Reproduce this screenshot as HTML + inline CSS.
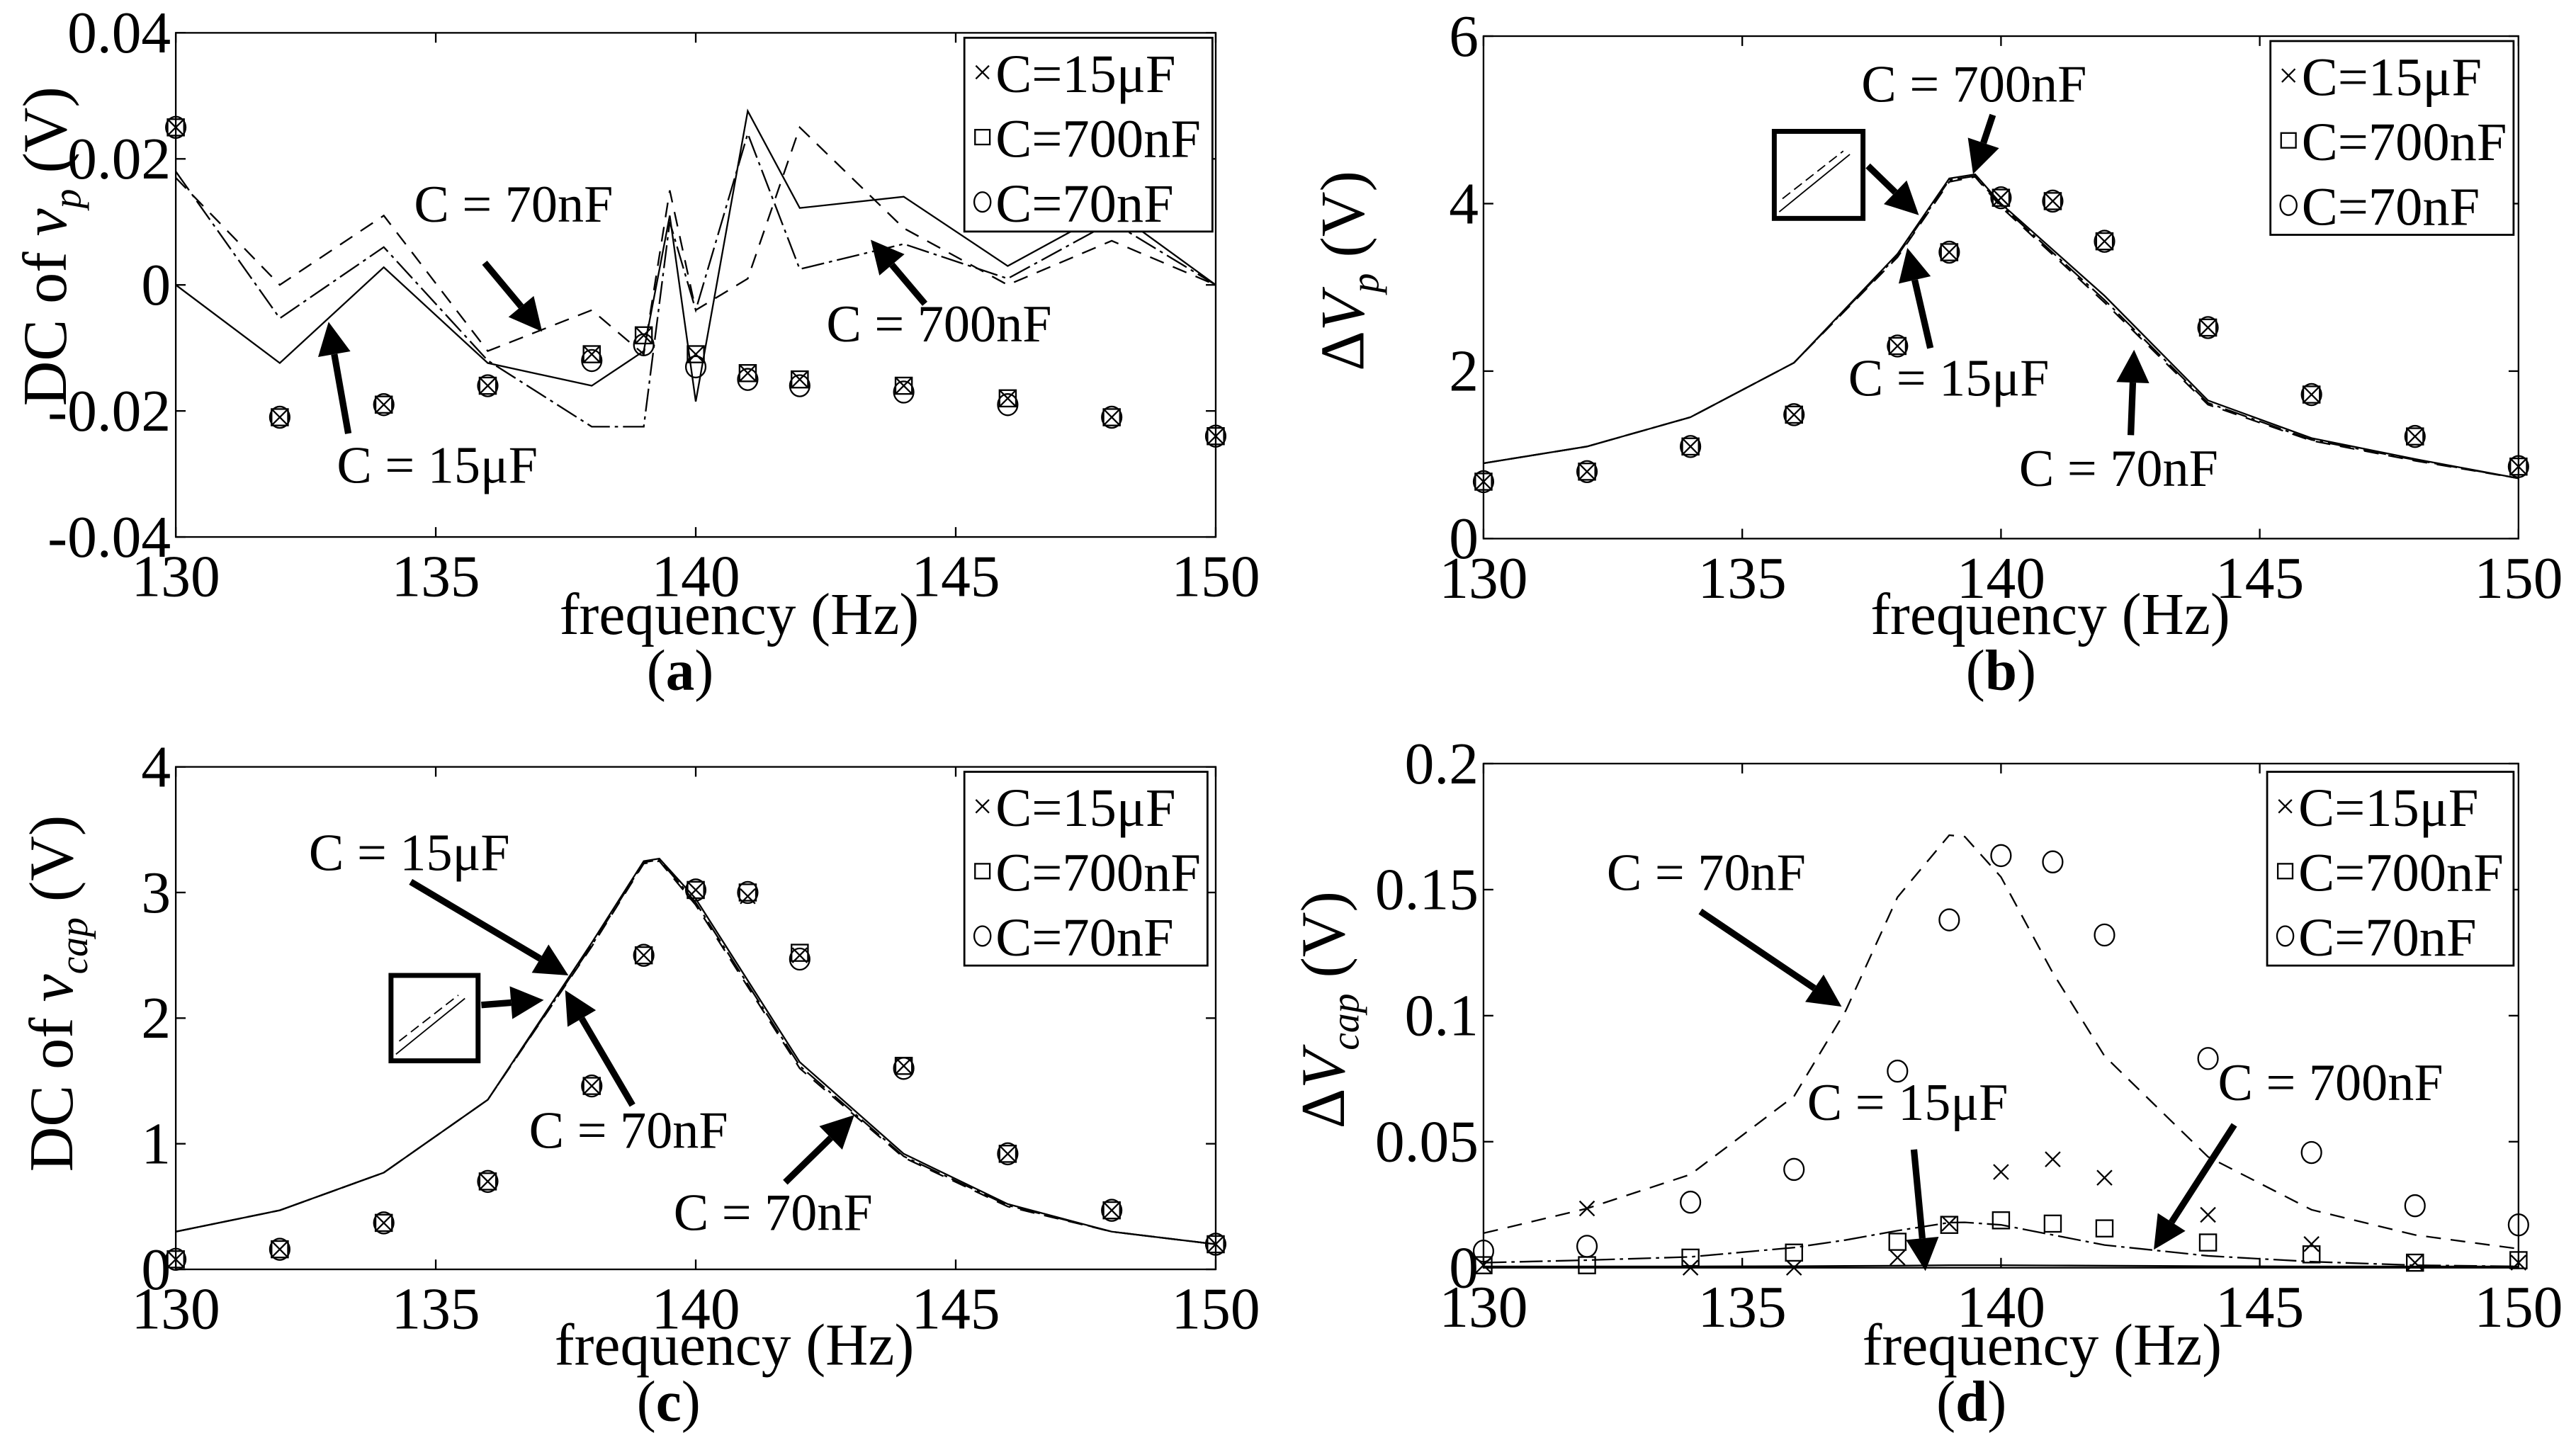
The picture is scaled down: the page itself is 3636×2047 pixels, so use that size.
<!DOCTYPE html>
<html><head><meta charset="utf-8">
<style>
html,body{margin:0;padding:0;background:#fff;}
svg{display:block;}
text{font-family:"Liberation Serif",serif;fill:#000;}
</style></head>
<body>
<svg id="fig" xmlns="http://www.w3.org/2000/svg" width="3636" height="2047" viewBox="0 0 1568 883" preserveAspectRatio="none"></svg>
<script>
// ---- shared categories ----
const freqMarkers = [130,132,134,136,138,139,140,141,142,144,146,148,150];
const xTicks = [130,135,140,145,150];

// ---- panel (a): DC of v_p ----
const aTicksY = [0.04,0.02,0,-0.02,-0.04];
const aTickLabelsY = ["0.04","0.02","0","-0.02","-0.04"];
const aMark15u = [0.025,-0.021,-0.019,-0.016,-0.011,-0.008,-0.011,-0.014,-0.015,-0.016,-0.018,-0.021,-0.024];
const aMark700n = [0.025,-0.021,-0.019,-0.016,-0.011,-0.008,-0.011,-0.014,-0.015,-0.016,-0.018,-0.021,-0.024];
const aMark70n = [0.025,-0.021,-0.019,-0.016,-0.012,-0.0095,-0.013,-0.015,-0.016,-0.017,-0.019,-0.021,-0.024];
const aLineX = [130,132,134,136,138,139,139.5,140,141,142,144,146,148,150];
const aLine15u = [0,-0.0124,0.0028,-0.0124,-0.016,-0.0105,0.011,-0.0185,0.0276,0.0122,0.014,0.003,0.012,0];
const aLine700n = [0.018,-0.0053,0.006,-0.012,-0.0225,-0.0225,0.01,-0.004,0.024,0.0025,0.0065,0.001,0.01,0];
const aLine70n = [0.017,0,0.011,-0.0105,-0.004,-0.011,0.015,-0.004,0.001,0.025,0.009,0,0.007,0];

// ---- panel (b): delta V_p ----
const bTicksY = [6,4,2,0];
const bTickLabelsY = ["6","4","2","0"];
const bMark15u = [0.68,0.8,1.1,1.48,2.3,3.42,4.07,4.03,3.55,2.52,1.72,1.22,0.86];
const bMark700n = [0.68,0.8,1.1,1.48,2.3,3.42,4.07,4.03,3.55,2.52,1.72,1.22,0.86];
const bMark70n = [0.68,0.8,1.1,1.48,2.3,3.42,4.07,4.03,3.55,2.52,1.72,1.22,0.86];
const bLineX = [130,132,134,136,138,139,139.5,140,142,144,146,148,150];
const bLine15u = [0.9,1.1,1.45,2.1,3.4,4.3,4.35,4.0,2.9,1.65,1.2,0.95,0.72];
const bLine700n = [0.9,1.1,1.45,2.1,3.38,4.28,4.33,3.98,2.85,1.62,1.18,0.94,0.72];
const bLine70n = [0.9,1.1,1.45,2.1,3.36,4.26,4.32,3.96,2.82,1.6,1.17,0.93,0.72];

// ---- panel (c): DC of v_cap ----
const cTicksY = [4,3,2,1,0];
const cTickLabelsY = ["4","3","2","1","0"];
const cMark15u = [0.08,0.16,0.37,0.7,1.46,2.5,3.02,2.97,2.5,1.62,0.92,0.47,0.2];
const cMark700n = [0.08,0.16,0.37,0.7,1.46,2.5,3.02,3.0,2.52,1.62,0.92,0.47,0.2];
const cMark70n = [0.08,0.16,0.37,0.7,1.46,2.5,3.02,3.0,2.47,1.6,0.92,0.47,0.2];
const cLineX = [130,132,134,136,138,139,139.3,140,142,144,146,148,150];
const cLine15u = [0.3,0.47,0.77,1.35,2.6,3.25,3.27,2.95,1.65,0.92,0.52,0.3,0.2];
const cLine700n = [0.3,0.47,0.77,1.35,2.58,3.24,3.26,2.92,1.62,0.9,0.51,0.3,0.2];
const cLine70n = [0.3,0.47,0.77,1.35,2.57,3.23,3.25,2.9,1.6,0.89,0.5,0.3,0.2];

// ---- panel (d): delta V_cap ----
const dTicksY = [0.2,0.15,0.1,0.05,0];
const dTickLabelsY = ["0.2","0.15","0.1","0.05","0"];
const dMark15u = [0.001,0.0235,0,0,0.004,0.0175,0.038,0.043,0.0357,0.021,0.0094,0.002,0.002];
const dMark700n = [0.001,0.001,0.004,0.006,0.0103,0.017,0.0188,0.0175,0.0156,0.01,0.0053,0.002,0.003];
const dMark70n = [0.0066,0.0085,0.026,0.039,0.078,0.138,0.1635,0.161,0.132,0.083,0.0457,0.0246,0.017];
const dLineX = [130,132,134,136,137,138,139,139.3,140,141,142,144,146,148,150];
const dLine70n = [0.0137,0.0235,0.037,0.068,0.102,0.147,0.1716,0.171,0.155,0.117,0.084,0.044,0.023,0.013,0.0075];
const dLine700n = [0.002,0.003,0.0043,0.008,0.011,0.0147,0.0179,0.018,0.017,0.013,0.009,0.0047,0.0024,0.001,0.0005];
const dLine15u = [0.0005,0.0005,0.0005,0.0006,0.0007,0.0008,0.001,0.001,0.001,0.0009,0.0008,0.0006,0.0005,0.0005,0.0005];

const NS = "http://www.w3.org/2000/svg";
const svg = document.getElementById('fig');
function mk(tag, attrs, parent){
  const e = document.createElementNS(NS, tag);
  for (const k in attrs) e.setAttribute(k, attrs[k]);
  (parent||svg).appendChild(e);
  return e;
}
function txt(x,y,s,size,parent,anchor){
  const t = mk('text',{x:x,y:y,'font-size':size,'text-anchor':anchor||'start'},parent);
  t.textContent = s;
  return t;
}

function panel(id, box, ymin, ymax, ticksY, tickLabelsY, lines, marks){
  const g = mk('g',{});
  
  
  const L=box.l, R=box.r, T=box.t, B=box.b;
  const sx = v => L + (v-130)/(150-130)*(R-L);
  const sy = v => B - (v-ymin)/(ymax-ymin)*(B-T);
  const frame = mk('rect',{x:L,y:T,width:R-L,height:B-T,fill:'none',stroke:'#000','stroke-width':1},g);
  
  
  xTicks.forEach(v=>{
    const x = sx(v);
    mk('line',{x1:x,y1:B,x2:x,y2:B-6,stroke:'#000'},g);
    mk('line',{x1:x,y1:T,x2:x,y2:T+6,stroke:'#000'},g);
    const t = txt(x, B+36, String(v), 36, g, 'middle');
    
    
  });
  ticksY.forEach((v,i)=>{
    const y = sy(v);
    mk('line',{x1:L,y1:y,x2:L+6,y2:y,stroke:'#000'},g);
    mk('line',{x1:R,y1:y,x2:R-6,y2:y,stroke:'#000'},g);
    const t = txt(L-3, y+12, tickLabelsY[i], 36, g, 'end');
    
    
  });
  lines.forEach(ln=>{
    const pts = ln.x.map((xv,i)=>sx(xv).toFixed(2)+','+sy(ln.y[i]).toFixed(2)).join(' ');
    const p = mk('polyline',{points:pts,fill:'none',stroke:'#000','stroke-width':ln.w||1,'stroke-dasharray':ln.dash||'none'},g);
    
    
  });
  marks.forEach(m=>{
    freqMarkers.forEach((f,i)=>{
      const x=sx(f), y=sy(m.y[i]);
      let e;
      if (m.type==='x'){
        e = mk('path',{d:`M${x-4.5},${y-4.5}L${x+4.5},${y+4.5}M${x-4.5},${y+4.5}L${x+4.5},${y-4.5}`,stroke:'#000','stroke-width':1,fill:'none'},g);
      } else if (m.type==='s'){
        e = mk('rect',{x:x-5,y:y-5,width:10,height:10,fill:'none',stroke:'#000','stroke-width':1},g);
      } else {
        e = mk('ellipse',{cx:x,cy:y,rx:6,ry:6.5,fill:'none',stroke:'#000','stroke-width':1},g);
      }
      
      
    });
  });
  return g;
}

function legend(x,y,w,h){
  const g = mk('g',{});
  
  
  mk('rect',{x:x,y:y,width:w,height:h,fill:'#fff',stroke:'#000','stroke-width':1.2},g);
  const labels=['C=15μF','C=700nF','C=70nF'];
  labels.forEach((s,i)=>{
    const cy = y+21+i*39.5, mx = x+11;
    if(i===0) mk('path',{d:`M${mx-4},${cy-4}L${mx+4},${cy+4}M${mx-4},${cy+4}L${mx+4},${cy-4}`,stroke:'#000'},g);
    if(i===1) mk('rect',{x:mx-4.5,y:cy-4.5,width:9,height:9,fill:'none',stroke:'#000'},g);
    if(i===2) mk('ellipse',{cx:mx,cy:cy,rx:5,ry:6,fill:'none',stroke:'#000'},g);
    const t = txt(x+19, cy+12, s, 33, g);
    
    
  });
}

function arrow(x1,y1,x2,y2){
  const dx=x2-x1, dy=y2-y1, len=Math.hypot(dx,dy), ux=dx/len, uy=dy/len;
  const hl=20, hw=10;
  const bx=x2-ux*hl, by=y2-uy*hl;
  mk('line',{x1:x1,y1:y1,x2:bx,y2:by,stroke:'#000','stroke-width':4});
  const a = mk('polygon',{points:`${x2},${y2} ${bx-uy*hw},${by+ux*hw} ${bx+uy*hw},${by-ux*hw}`,fill:'#000'});
  
  
}
function note(x,y,s){
  const t = txt(x,y,s,32);
  
  
}
function label(x,y,s,size,anchor,name){
  const t = txt(x,y,s,size,null,anchor||'middle');
  
  
  return t;
}
function caption(x,y,letter){
  const t = mk('text',{x:x,y:y,'font-size':35,'text-anchor':'middle'});
  t.innerHTML='(<tspan font-weight="bold">'+letter+'</tspan>)';
  
  
}
function inset(x,y,w,h){
  const g = mk('g',{});
  
  
  mk('rect',{x:x,y:y,width:w,height:h,fill:'#fff',stroke:'#000','stroke-width':3},g);
  mk('line',{x1:x+3,y1:y+h-4,x2:x+w-8,y2:y+14,stroke:'#000','stroke-width':0.8},g);
  mk('line',{x1:x+5,y1:y+h-12,x2:x+w-12,y2:y+12,stroke:'#000','stroke-width':0.8,'stroke-dasharray':'6,3'},g);
}
function ytitle(cx,cy,html){
  const t=mk('text',{x:0,y:0,'font-size':38,'text-anchor':'middle',transform:`translate(${cx},${cy}) rotate(-90)`});
  t.innerHTML=html;
  
  
}

// Panel (a)
panel('a',{l:107,r:740,t:20,b:327},-0.04,0.04,aTicksY,aTickLabelsY,[
  {name:'15uF',x:aLineX,y:aLine15u},
  {name:'700nF',x:aLineX,y:aLine700n,dash:'14,3,2,3'},
  {name:'70nF',x:aLineX,y:aLine70n,dash:'9,6'}
],[{name:'15uF',type:'x',y:aMark15u},{name:'700nF',type:'s',y:aMark700n},{name:'70nF',type:'o',y:aMark70n}]);
legend(587,23,151,118);
note(252,135,'C = 70nF'); arrow(295,160,330,202);
note(503,208,'C = 700nF'); arrow(563,185,530,146);
note(205,294,'C = 15μF'); arrow(212,264,200,196);
label(450,386,'frequency (Hz)',36,'middle','x-axis-title');
caption(414,420,'a');
ytitle(40,150,'DC of <tspan font-style="italic">v</tspan><tspan font-size="24" font-style="italic" dy="9">p</tspan><tspan dy="-9"> (V)</tspan>');

// Panel (b)
panel('b',{l:903,r:1533,t:22,b:328},0,6,bTicksY,bTickLabelsY,[
  {name:'15uF',x:bLineX,y:bLine15u},
  {name:'700nF',x:bLineX,y:bLine700n,dash:'14,3,2,3'},
  {name:'70nF',x:bLineX,y:bLine70n,dash:'9,6'}
],[{name:'15uF',type:'x',y:bMark15u},{name:'700nF',type:'s',y:bMark700n},{name:'70nF',type:'o',y:bMark70n}]);
legend(1382,25,148,118);
inset(1080,80,54,53);
arrow(1137,101,1168,131);
note(1133,62,'C = 700nF'); arrow(1213,70,1201,106);
note(1125,241,'C = 15μF'); arrow(1175,212,1161,151);
note(1229,296,'C = 70nF'); arrow(1297,265,1299,213);
label(1248,386,'frequency (Hz)',36,'middle','x-axis-title');
caption(1218,420,'b');
ytitle(830,165,'Δ<tspan font-style="italic">V</tspan><tspan font-size="24" font-style="italic" dy="9">p</tspan><tspan dy="-9">  (V)</tspan>');

// Panel (c)
panel('c',{l:107,r:740,t:467,b:773},0,4,cTicksY,cTickLabelsY,[
  {name:'15uF',x:cLineX,y:cLine15u},
  {name:'700nF',x:cLineX,y:cLine700n,dash:'14,3,2,3'},
  {name:'70nF',x:cLineX,y:cLine70n,dash:'9,6'}
],[{name:'15uF',type:'x',y:cMark15u},{name:'700nF',type:'s',y:cMark700n},{name:'70nF',type:'o',y:cMark70n}]);
legend(587,470,148,118);
inset(238,594,53,52);
arrow(293,612,331,609);
note(188,530,'C = 15μF'); arrow(250,537,346,594);
note(322,699,'C = 70nF'); arrow(385,673,344,603);
note(410,749,'C = 70nF'); arrow(478,720,520,679);
label(447,831,'frequency (Hz)',36,'middle','x-axis-title');
caption(407,865,'c');
ytitle(44,605,'DC of <tspan font-style="italic">v</tspan><tspan font-size="24" font-style="italic" dy="9">cap</tspan><tspan dy="-9"> (V)</tspan>');

// Panel (d)
panel('d',{l:903,r:1533,t:465,b:772},0,0.2,dTicksY,dTickLabelsY,[
  {name:'15uF',x:dLineX,y:dLine15u},
  {name:'700nF',x:dLineX,y:dLine700n,dash:'14,3,2,3'},
  {name:'70nF',x:dLineX,y:dLine70n,dash:'9,6'}
],[{name:'15uF',type:'x',y:dMark15u},{name:'700nF',type:'s',y:dMark700n},{name:'70nF',type:'o',y:dMark70n}]);
legend(1380,470,150,118);
note(978,542,'C = 70nF'); arrow(1035,555,1121,613);
note(1100,682,'C = 15μF'); arrow(1165,700,1172,774);
note(1350,670,'C = 700nF'); arrow(1360,685,1311,761);
label(1243,831,'frequency (Hz)',36,'middle','x-axis-title');
caption(1200,865,'d');
ytitle(818,615,'Δ<tspan font-style="italic">V</tspan><tspan font-size="24" font-style="italic" dy="9">cap</tspan><tspan dy="-9">   (V)</tspan>');
</script>
</body></html>
